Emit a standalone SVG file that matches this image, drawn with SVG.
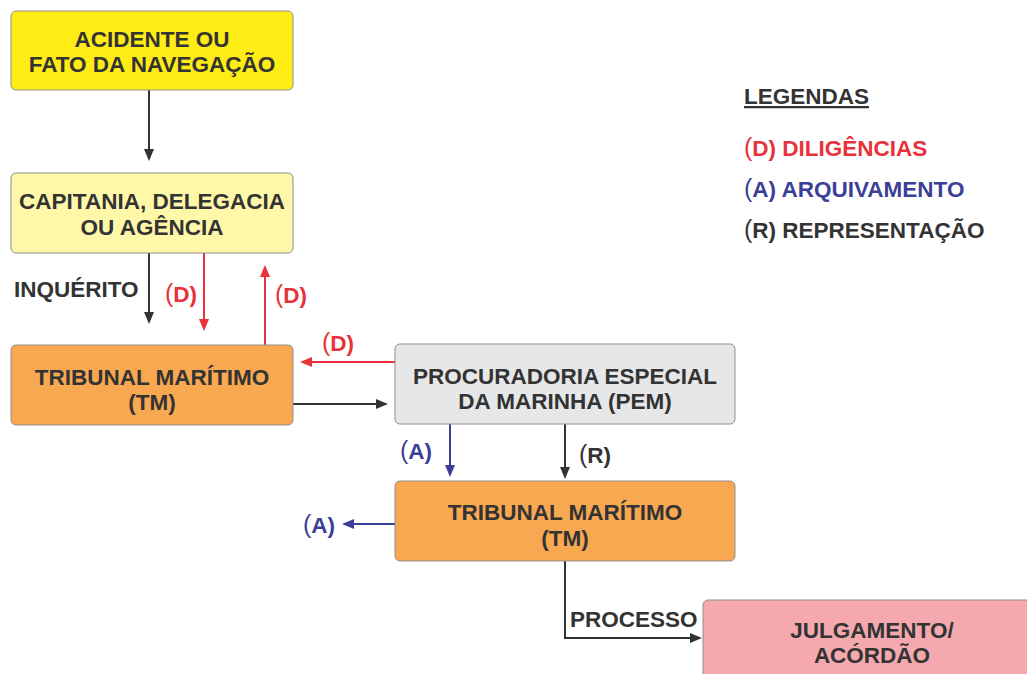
<svg xmlns="http://www.w3.org/2000/svg" width="1027" height="674" viewBox="0 0 1027 674">
<style>
.box{stroke:#8f8f8f;stroke-width:1}
.t{font-family:"Liberation Sans",Arial,sans-serif;font-weight:bold;font-size:22.5px;fill:#333;text-anchor:middle}
.l{font-family:"Liberation Sans",Arial,sans-serif;font-weight:bold;font-size:22.5px;fill:#333}
.p{font-weight:normal;font-size:25px}
.red{fill:#E8313A}
.blue{fill:#3B3F98}
.ck{fill:none;stroke:#333;stroke-width:2}
.cr{fill:none;stroke:#E8313A;stroke-width:2}
.cb{fill:none;stroke:#3B3F98;stroke-width:2}
</style>
<defs>
<marker id="ak" markerWidth="12" markerHeight="10" refX="10" refY="5" orient="auto" markerUnits="userSpaceOnUse"><path d="M0,0 L12,5 L0,10 Z" fill="#333"/></marker>
<marker id="ar" markerWidth="12" markerHeight="10" refX="10" refY="5" orient="auto" markerUnits="userSpaceOnUse"><path d="M0,0 L12,5 L0,10 Z" fill="#E8313A"/></marker>
<marker id="ab" markerWidth="12" markerHeight="10" refX="10" refY="5" orient="auto" markerUnits="userSpaceOnUse"><path d="M0,0 L12,5 L0,10 Z" fill="#3B3F98"/></marker>
</defs>
<rect width="1027" height="674" fill="#fff"/>
<g id="connectors">
<path class="ck" d="M149,90 V159" marker-end="url(#ak)"/>
<path class="ck" d="M149,253 V322" marker-end="url(#ak)"/>
<path class="cr" d="M204,253 V329" marker-end="url(#ar)"/>
<path class="cr" d="M265,345 V267" marker-end="url(#ar)"/>
<path class="cr" d="M395,362 H302" marker-end="url(#ar)"/>
<path class="ck" d="M293,404 H386" marker-end="url(#ak)"/>
<path class="cb" d="M450,424 V475" marker-end="url(#ab)"/>
<path class="ck" d="M565,424 V477" marker-end="url(#ak)"/>
<path class="cb" d="M395,524 H344" marker-end="url(#ab)"/>
<path class="ck" d="M565,561 V638 H700" marker-end="url(#ak)"/>
<text class="l" x="14" y="297">INQUÉRITO</text>
<text class="l red" x="165" y="302"><tspan class="p">(</tspan>D)</text>
<text class="l red" x="275" y="303"><tspan class="p">(</tspan>D)</text>
<text class="l red" x="322" y="351"><tspan class="p">(</tspan>D)</text>
<text class="l blue" x="400" y="459"><tspan class="p">(</tspan>A)</text>
<text class="l" x="579" y="463"><tspan class="p">(</tspan>R)</text>
<text class="l blue" x="303" y="533"><tspan class="p">(</tspan>A)</text>
<text class="l" x="570" y="627">PROCESSO</text>
</g>
<g id="n1"><rect class="box" x="11" y="11" width="282" height="79" rx="5" fill="#FFEC14"/>
<text class="t" x="152" y="47">ACIDENTE OU</text><text class="t" x="152" y="72">FATO DA NAVEGAÇÃO</text></g>
<g id="n2"><rect class="box" x="11" y="173" width="282" height="80" rx="5" fill="#FFF8A8"/>
<text class="t" x="152" y="209">CAPITANIA, DELEGACIA</text><text class="t" x="152" y="235">OU AGÊNCIA</text></g>
<g id="n3"><rect class="box" x="11" y="345" width="282" height="80" rx="5" fill="#F8A850"/>
<text class="t" x="152" y="385">TRIBUNAL MARÍTIMO</text><text class="t" x="152" y="410">(TM)</text></g>
<g id="n4"><rect class="box" x="395" y="344" width="340" height="80" rx="5" fill="#E6E7E8"/>
<text class="t" x="565" y="384">PROCURADORIA ESPECIAL</text><text class="t" x="565" y="409">DA MARINHA (PEM)</text></g>
<g id="n5"><rect class="box" x="395" y="481" width="340" height="80" rx="5" fill="#F8A850"/>
<text class="t" x="565" y="520">TRIBUNAL MARÍTIMO</text><text class="t" x="565" y="546">(TM)</text></g>
<g id="n6"><rect class="box" x="703" y="600" width="340" height="90" rx="5" fill="#F5A9AE"/>
<text class="t" x="872" y="638">JULGAMENTO/</text><text class="t" x="872" y="663">ACÓRDÃO</text></g>
<g id="legend">
<text class="l" x="744" y="104" text-decoration="underline">LEGENDAS</text>
<text class="l red" x="744" y="156"><tspan class="p">(</tspan>D) DILIGÊNCIAS</text>
<text class="l blue" x="744" y="197"><tspan class="p">(</tspan>A) ARQUIVAMENTO</text>
<text class="l" x="744" y="238"><tspan class="p">(</tspan>R) REPRESENTAÇÃO</text>
</g>
</svg>
